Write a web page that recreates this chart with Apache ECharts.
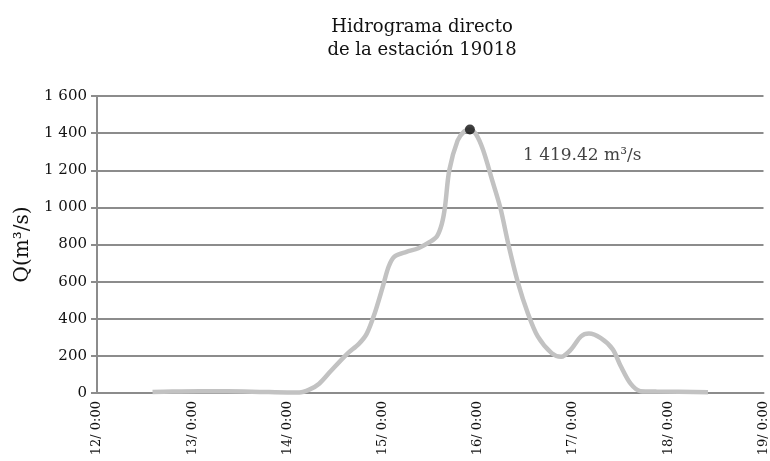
<!DOCTYPE html>
<html lang="es">
  <head>
    <meta charset="UTF-8" />
    <title>Hidrograma directo de la estación 19018</title>
    <script src="https://cdn.jsdelivr.net/npm/echarts@6.0.0/dist/echarts.min.js"></script>
    <style>
      body {
        margin: 0;
        background: #fff;
      }
      #main {
        width: 770px;
        height: 461px;
      }
    </style>
  </head>
  <body>
    <div id="main"></div>
    <script type="text/javascript">
      var chart = echarts.init(document.getElementById("main"))

      // horas contadas desde 12/ 0:00
      const hours = [
        14, 19, 26, 33, 41, 48, 51, 53.5, 56, 59, 63, 66, 68, 70, 72, 73.5, 75,
        78, 81, 84, 85.7, 86.9, 87.7, 88.8, 90.9, 92.6, 94, 95.5, 97.3, 99.7,
        101.7, 103.7, 106.1, 108.6, 111.1, 114.6, 117, 119.5, 122, 124, 127,
        130, 132, 134.5, 137, 141, 154,
      ]
      const flow = [
        5, 8, 10, 9, 6, 3, 3, 18, 50, 120, 210, 265, 320, 430, 570, 680, 735,
        760, 780, 815, 845, 910, 1000, 1200, 1360, 1410, 1419.42, 1395, 1310,
        1140, 995, 800, 595, 430, 305, 215, 195, 235, 305, 320, 295, 235, 145,
        50, 10, 8, 4,
      ]
      const dayLabels = ["12", "13", "14", "15", "16", "17", "18", "19"]
      const yTicks = [0, 200, 400, 600, 800, 1000, 1200, 1400, 1600]

      const peakIndex = flow.indexOf(Math.max(...flow))
      const font = "DejaVu Serif"

      function withSpace(v) {
        return String(v).replace(/\B(?=(\d{3})+(?!\d))/g, " ")
      }

      const option = {
        animation: false,
        title: {
          text: "Hidrograma directo\nde la estación 19018",
          left: 417,
          top: 11,
          textAlign: "center",
          textStyle: {
            fontFamily: font,
            fontWeight: "normal",
            fontSize: 18,
            lineHeight: 23,
            color: "#111",
          },
        },
        grid: { left: 97, right: 2, top: 96, bottom: 68 },
        xAxis: {
          type: "value",
          min: 0,
          max: 168,
          interval: 24,
          axisLine: { lineStyle: { color: "#8c8c8c", width: 2 } },
          axisTick: { show: false },
          splitLine: { show: false },
          axisLabel: {
            rotate: 90,
            margin: 8,
            fontFamily: font,
            fontSize: 13,
            color: "#111",
            formatter: v => dayLabels[v / 24] + "/ 0:00",
          },
        },
        yAxis: {
          type: "value",
          min: yTicks[0],
          max: yTicks[yTicks.length - 1],
          interval: 200,
          name: "Q(m³/s)",
          nameLocation: "middle",
          nameGap: 60,
          nameTextStyle: { fontFamily: font, fontSize: 20, color: "#111" },
          axisLine: { show: true, lineStyle: { color: "#8c8c8c", width: 2 } },
          axisTick: {
            show: true,
            length: 6,
            lineStyle: { color: "#8c8c8c", width: 2 },
          },
          splitLine: { lineStyle: { color: "#8c8c8c", width: 2 } },
          axisLabel: {
            margin: 10,
            fontFamily: font,
            fontSize: 15,
            color: "#111",
            formatter: v => withSpace(v),
          },
        },
        series: [
          {
            type: "line",
            smooth: 0.3,
            showSymbol: false,
            data: hours.map((h, i) => [h, flow[i]]),
            lineStyle: { color: "#c2c2c2", width: 4.5 },
            z: 2,
          },
          {
            type: "scatter",
            symbolSize: 10,
            data: [[hours[peakIndex], flow[peakIndex]]],
            itemStyle: { color: "#111" },
            label: {
              show: true,
              position: [58, 23],
              fontFamily: font,
              fontSize: 17,
              color: "#111",
              formatter: p => withSpace(p.value[1].toFixed(2)) + " m³/s",
            },
            z: 3,
          },
        ],
      }

      chart.setOption(option)
    </script>
  </body>
</html>
